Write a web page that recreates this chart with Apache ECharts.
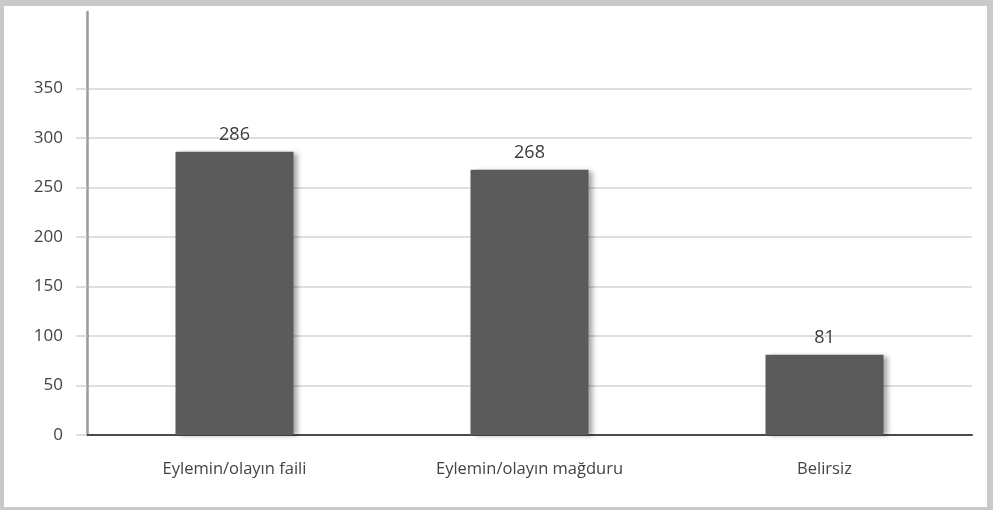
<!DOCTYPE html>
<html>
<head>
<meta charset="utf-8">
<script src="https://cdn.jsdelivr.net/npm/echarts@6/dist/echarts.min.js"></script>
<style>
  html, body { margin: 0; padding: 0; background: #fff; }
  #wrap { position: relative; width: 993px; height: 510px; }
  #chart { position: absolute; left: 0; top: 0; width: 993px; height: 510px; }
  #frame {
    position: absolute; left: 0; top: 0; width: 993px; height: 510px;
    box-sizing: border-box; pointer-events: none;
    border-style: solid; border-color: #c9c9c9;
    border-width: 6px 6px 3px 4px;
  }
</style>
</head>
<body>
<div id="wrap">
  <div id="chart"></div>
  <div id="frame"></div>
</div>
<script>
const categories = ['Eylemin/olayın faili', 'Eylemin/olayın mağduru', 'Belirsiz'];
const values = [286, 268, 81];
const yMin = 0;
const yMax = 350;
const yInterval = 50;

const font = '"Open Sans", "Noto Sans", sans-serif';
const chart = echarts.init(document.getElementById('chart'), null, { renderer: 'canvas' });

chart.setOption({
  animation: false,
  backgroundColor: '#fff',
  grid: [
    // main plotting area
    { left: 87, top: 88.5, width: 885, height: 346.5 },
    // taller area carrying only the vertical axis line
    { left: 87, top: 12, width: 885, height: 423 }
  ],
  xAxis: [
    {
      type: 'category', gridIndex: 0, data: categories,
      axisLine: { show: true, lineStyle: { color: '#4a4a4a', width: 2 } },
      axisTick: { show: false },
      axisLabel: { margin: 26, color: '#444', fontSize: 16.5, fontFamily: font }
    },
    { type: 'category', gridIndex: 1, data: categories, show: false }
  ],
  yAxis: [
    {
      type: 'value', gridIndex: 0, min: yMin, max: yMax, interval: yInterval,
      axisLine: { show: false },
      axisTick: { show: true, inside: false, length: 11, lineStyle: { color: '#d4d4d4', width: 1.5 } },
      axisLabel: { margin: 24, color: '#444', fontSize: 17, fontFamily: font },
      splitLine: { show: true, lineStyle: { color: '#d4d4d4', width: 1.5 } }
    },
    {
      type: 'value', gridIndex: 1, min: 0, max: 1,
      axisLine: { show: true, lineStyle: { color: '#9a9a9a', width: 2.5 } },
      axisTick: { show: false }, axisLabel: { show: false }, splitLine: { show: false }
    }
  ],
  series: [{
    type: 'bar', xAxisIndex: 0, yAxisIndex: 0,
    data: values, barWidth: 118,
    itemStyle: {
      color: '#5b5b5b',
      shadowColor: 'rgba(0,0,0,0.35)', shadowBlur: 5, shadowOffsetX: 4, shadowOffsetY: 1
    },
    label: {
      show: true, position: 'top', distance: 8,
      color: '#3a3a3a', fontSize: 18, fontFamily: font
    }
  }]
});
</script>
</body>
</html>
